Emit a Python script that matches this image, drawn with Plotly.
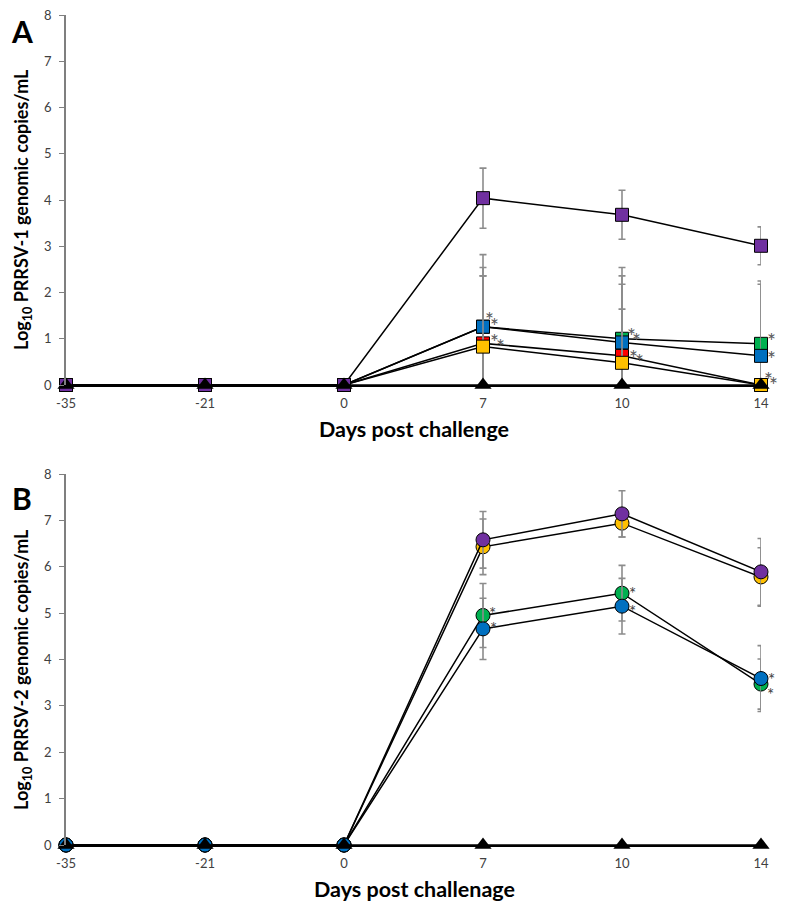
import plotly.graph_objects as go

# ---------------- data ----------------
days = ["-35", "-21", "0", "7", "10", "14"]
xi = list(range(len(days)))

# Panel A (PRRSV-1), mean and SD
a_green = [0, 0, 0, 1.26, 1.00, 0.89]
a_green_sd = [0, 0, 0, 1.28, 1.54, 1.36]
a_red = [0, 0, 0, 0.90, 0.63, 0]
a_red_sd = [0, 0, 0, 1.46, 1.55, 0]
a_blue = [0, 0, 0, 1.26, 0.92, 0.63]
a_blue_sd = [0, 0, 0, 1.56, 1.44, 1.55]
a_yellow = [0, 0, 0, 0.83, 0.48, 0]
a_yellow_sd = [0, 0, 0, 1.53, 1.16, 0]
a_purple = [0, 0, 0, 4.04, 3.68, 3.01]
a_purple_sd = [0, 0, 0, 0.65, 0.53, 0.41]
a_control = [0, 0, 0, 0, 0, 0]

# Panel B (PRRSV-2)
b_yellow = [0, 0, 0, 6.43, 6.94, 5.78]
b_yellow_sd = [0, 0, 0, 0.60, 0.30, 0.63]
b_purple = [0, 0, 0, 6.58, 7.14, 5.89]
b_purple_sd = [0, 0, 0, 0.61, 0.50, 0.72]
b_green = [0, 0, 0, 4.95, 5.43, 3.47]
b_green_sd = [0, 0, 0, 0.69, 0.60, 0.54]
b_blue = [0, 0, 0, 4.66, 5.15, 3.59]
b_blue_sd = [0, 0, 0, 0.66, 0.60, 0.71]
b_control = [0, 0, 0, 0, 0, 0]

# significance asterisks: (day index, y level)
a_stars = [(3, 1.54), (3, 1.41), (3, 1.07), (3, 0.96),
           (4, 1.20), (4, 1.10), (4, 0.72), (4, 0.63),
           (5, 1.10), (5, 0.70), (5, 0.25), (5, 0.14)]
b_stars = [(3, 5.10), (3, 4.78), (4, 5.53), (4, 5.15), (5, 3.68), (5, 3.36)]

# ---------------- styling ----------------
PURPLE = "#7030A0"
BLUE = "#0070C0"
GREEN = "#00B050"
RED = "#FF0000"
YELLOW = "#FFC000"
ERR = "#8C8C8C"
FONT = "Lato"

fig = go.Figure()


def add_series(vals, sd, color, symbol, size, xa, ya):
    arr = [s if s > 0 else None for s in sd]
    # error bars (clipped at axis)
    fig.add_trace(go.Scatter(
        x=xi, y=vals, mode="markers", xaxis=xa, yaxis=ya,
        marker=dict(size=1, color="rgba(0,0,0,0)"),
        error_y=dict(type="data", array=arr, symmetric=True, color=ERR,
                     thickness=1.6, width=3.5),
        cliponaxis=True, showlegend=False, hoverinfo="skip"))
    fig.add_trace(go.Scatter(
        x=xi, y=vals, mode="lines+markers", xaxis=xa, yaxis=ya,
        line=dict(color="black", width=1.5),
        marker=dict(symbol=symbol, size=size, color=color,
                    line=dict(color="black", width=1)),
        cliponaxis=False, showlegend=False))


def add_control(vals, xa, ya):
    fig.add_trace(go.Scatter(
        x=xi, y=vals, mode="lines+markers", xaxis=xa, yaxis=ya,
        line=dict(color="black", width=1.5),
        marker=dict(symbol="triangle-up", size=15, color="black",
                    line=dict(color="black", width=0)),
        cliponaxis=False, showlegend=False))


# Panel A
add_series(a_green, a_green_sd, GREEN, "square", 13, "x", "y")
add_series(a_red, a_red_sd, RED, "square", 13, "x", "y")
add_series(a_blue, a_blue_sd, BLUE, "square", 13, "x", "y")
add_series(a_yellow, a_yellow_sd, YELLOW, "square", 13, "x", "y")
add_series(a_purple, a_purple_sd, PURPLE, "square", 13, "x", "y")
add_control(a_control, "x", "y")

# Panel B
add_series(b_yellow, b_yellow_sd, YELLOW, "circle", 14, "x2", "y2")
add_series(b_purple, b_purple_sd, PURPLE, "circle", 14, "x2", "y2")
add_series(b_green, b_green_sd, GREEN, "circle", 14, "x2", "y2")
add_series(b_blue, b_blue_sd, BLUE, "circle", 14, "x2", "y2")
add_control(b_control, "x2", "y2")

W, H = 786, 911
x_dom = [66 / W, 761 / W]
yA = [1 - 385 / H, 1 - 15 / H]
yB = [1 - 845 / H, 1 - 474 / H]

xax = dict(range=[0, 5], tickmode="array", tickvals=xi, ticktext=days,
           showgrid=False, zeroline=False, showline=True, linecolor="black",
           linewidth=1.5, ticks="", ticklabelstandoff=6,
           tickfont=dict(family=FONT, size=13, color="#404040"),
           automargin=False, fixedrange=True)
yax = dict(range=[0, 8], dtick=1, tick0=0, showgrid=False, zeroline=False,
           showline=True, linecolor="#7F7F7F", linewidth=1.5, ticks="outside",
           ticklen=5, tickcolor="#7F7F7F", tickwidth=1.2, ticklabelstandoff=5,
           tickfont=dict(family=FONT, size=13, color="#404040"),
           automargin=False, fixedrange=True)

fig.update_layout(
    width=W, height=H, margin=dict(l=0, r=0, t=0, b=0, autoexpand=False),
    paper_bgcolor="white", plot_bgcolor="white",
    xaxis=dict(xax, domain=x_dom, anchor="y"),
    yaxis=dict(yax, domain=yA, anchor="x"),
    xaxis2=dict(xax, domain=x_dom, anchor="y2"),
    yaxis2=dict(yax, domain=yB, anchor="x2"),
)

ann = []
C = dict(xanchor="center", yanchor="middle", showarrow=False)
# star annotations
star_shifts_a = [6, 11, 11, 17, 9, 14, 11, 17, 10, 10, 7, 12]
for (d, yv), xs in zip(a_stars, star_shifts_a):
    ann.append(dict(C, x=d, y=yv, xref="x", yref="y", text="*",
                    xshift=xs, yshift=-6,
                    font=dict(family=FONT, size=21, color="#595959")))
star_shifts_b = [9, 10, 10, 10, 10, 9]
for (d, yv), xs in zip(b_stars, star_shifts_b):
    ann.append(dict(C, x=d, y=yv, xref="x2", yref="y2", text="*",
                    xshift=xs, yshift=-5,
                    font=dict(family=FONT, size=17, color="#404040")))

# titles and panel letters
title_font = dict(family=FONT, size=21.5, color="black")
ann.append(dict(C, x=414 / W, y=1 - 429 / H, xref="paper", yref="paper",
                text="<b>Days post challenge</b>", font=title_font))
ann.append(dict(C, x=414 / W, y=1 - 889 / H, xref="paper", yref="paper",
                text="<b>Days post challenage</b>", font=title_font))
ytf = dict(family=FONT, size=18, color="black")
ann.append(dict(C, x=22 / W, y=1 - 210 / H, xref="paper", yref="paper", textangle=-90,
                text="<b>Log<sub>10</sub> PRRSV-1 genomic copies/mL</b>", font=ytf))
ann.append(dict(C, x=22 / W, y=1 - 670 / H, xref="paper", yref="paper", textangle=-90,
                text="<b>Log<sub>10</sub> PRRSV-2 genomic copies/mL</b>", font=ytf))
letter_font = dict(family=FONT, size=30, color="black")
ann.append(dict(C, x=22 / W, y=1 - 31 / H, xref="paper", yref="paper",
                text="<b>A</b>", font=letter_font))
ann.append(dict(C, x=22 / W, y=1 - 498 / H, xref="paper", yref="paper",
                text="<b>B</b>", font=letter_font))

fig.update_layout(annotations=ann)
fig.write_html("out.html", config={"displayModeBar": False},
               post_script="document.body.style.margin='0';"
                           "document.documentElement.style.overflow='hidden';")
